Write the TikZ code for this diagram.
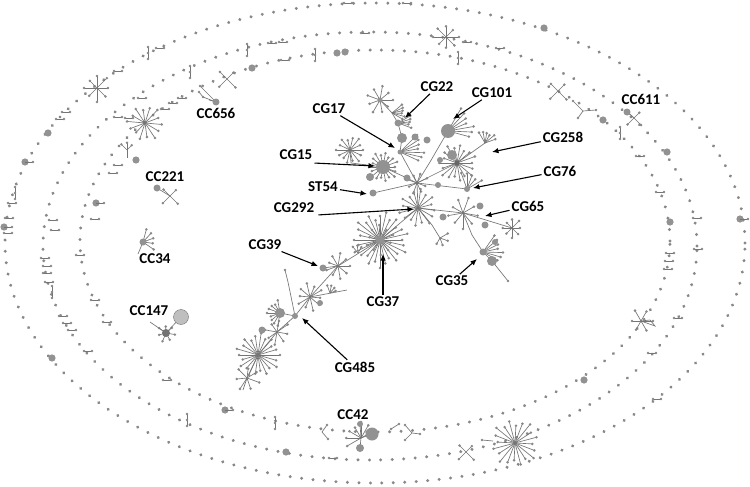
\documentclass[tikz,border=0pt]{standalone}
\usepackage{fontspec}
\setmainfont{Carlito}
\usetikzlibrary{arrows.meta,decorations.markings}
\definecolor{dotc}{HTML}{888888}
\definecolor{edgec}{HTML}{747474}
\definecolor{bigc}{HTML}{929292}
\newcommand{\starat}[5]{\foreach \k in {1,...,#3}{\pgfmathsetmacro{\ang}{#5+360*\k/#3}\pgfmathsetmacro{\slen}{#4*(0.72+0.28*mod(\k*7,5)/4)}\draw[edge] (#1,#2) -- ++(\ang:\slen) coordinate (sp); \fill[dotc] (sp) circle (1.4pt);}}
\newcommand{\fanat}[6]{\foreach \k in {1,...,#3}{\pgfmathsetmacro{\ang}{#5+(#6-#5)*(\k-1)/max(#3-1,1)}\pgfmathsetmacro{\slen}{#4*(0.75+0.25*mod(\k*3,4)/3)}\draw[edge] (#1,#2) -- ++(\ang:\slen) coordinate (sp); \fill[dotc] (sp) circle (1.4pt);}}
\newcommand{\vbr}[2]{\draw[edge] (#1,#2-6) -- (#1,#2+6); \fill[dotc] (#1,#2-6) circle (1.4pt) (#1,#2) circle (1.4pt) (#1,#2+6) circle (1.4pt);}
\begin{document}
\begin{tikzpicture}[x=1pt,y=-1pt,
 edge/.style={draw=edgec,line width=0.65pt},
 lbl/.style={font=\fontsize{15}{15}\selectfont\bfseries, inner sep=1pt, text=black},
 arr/.style={draw=black,line width=1.1pt,shorten <=1pt,-{Latex[length=6.5pt,width=5.5pt]}},
 ring/.style={postaction={decorate},decoration={markings,mark=between positions 0 and 1 step 11.5pt with {\fill[dotc] (0,0) circle (1.65pt);}}}
]
\useasboundingbox (0,0) rectangle (750,487);
\fill[white] (0,0) rectangle (750,487);
% rings
\path[ring] (375,243) ellipse [x radius=370pt, y radius=240pt];
\path[ring] (370,246) ellipse [x radius=327pt, y radius=214pt];
\path[ring] (375,241) ellipse [x radius=295pt, y radius=191pt];
% ring bars
\foreach \p in {(160,48),(118,71),(60,119),(66,112),(12,203),(9,218),(8,233),(348,3),(407,3),
 (272,43),(283,42),(142,98),(53,220),(55,230),(365,33),(467,42),(500,48),(45,258),(47,266),(47,273),(49,282),
 (63,316),(67,323),(72,330),(88,351),(333,458),(697,218),(698,249),(678,318),(652,353),(640,156),(660,192),
 (285,60),(182,98),(173,103),(165,109),(118,165),(113,173),(95,219),(80,255),(95,300),(107,322),(167,380),
 (670,253),(669,261),(668,269),(657,399),(118,117),(129,118)}{\path \p coordinate (q); \draw[edge] ([xshift=-4pt]q) -- ([xshift=4pt]q); \fill[dotc] ([xshift=-4pt]q) circle (1.4pt) ([xshift=4pt]q) circle (1.4pt);}
\vbr{148}{53}\vbr{15}{193}\vbr{247}{50}\vbr{190}{72}\vbr{52}{292}\vbr{187}{420}\vbr{620}{133}
\vbr{315}{55}\vbr{275}{423}\vbr{458}{58}
% ring circles
\foreach \x/\y/\r in {48/133/3.6,25/162/3.6,4/227/3.6,52/358/3.6,544/28/3.6,740/219/3.6,286/452/3.6,
 96/203/3.6,136/160/3.6,252/68/3.6,337/53/3.6,345/52/3.6,603/120/3.6,667/152/3.6,670/222/3.6,225/410/3.6,584/380/3.6}
 {\fill[bigc] (\x,\y) circle (\r pt);}
\draw[edge] (25,162) -- (33,162); \fill[dotc] (33,162) circle (1.4pt);
\draw[edge] (4,227) -- (12,227); \fill[dotc] (12,227) circle (1.4pt);
\draw[edge] (96,203) -- (104,203); \fill[dotc] (104,203) circle (1.4pt);
\draw[edge] (740,219) -- (748,219); \fill[dotc] (748,219) circle (1.4pt);
\draw[edge] (225,410) -- (233,410); \fill[dotc] (233,410) circle (1.4pt);
% ring stars and small shapes
\starat{97}{88}{8}{14}{0}
\starat{145}{123}{14}{18}{5}
\fanat{127}{150}{3}{8}{-135}{-45}\draw[edge] (127,150)--(127,158);
\fanat{227}{79}{4}{12}{45}{315}
\fanat{446}{37}{8}{13}{0}{315}
\fanat{558}{91}{4}{12}{45}{315}
\draw[edge] (583,111) -- (573,101) (583,111) -- (596,110) (583,111) -- (578,118);
\fill[dotc] (573,101) circle (1.4pt) (596,110) circle (1.4pt) (578,118) circle (1.4pt);
\fanat{641}{321}{6}{12}{0}{300}
\draw[edge] (641,321) -- (655,326) -- (650,320) -- cycle;
\fanat{466}{452}{4}{11}{45}{315}
\starat{515}{443}{20}{24}{3}
\draw[edge] (493,441) -- (482,440); \fill[dotc] (482,440) circle (1.4pt);
\draw[edge] (327,425) -- (322,432) -- (328,439); \fill[dotc] (327,425) circle (1.4pt) (328,439) circle (1.4pt);
\draw[edge] (391,429) -- (399,424); \fill[dotc] (391,429) circle (1.4pt) (399,424) circle (1.4pt);
\draw[edge] (412,433) -- (405,425) (412,433) -- (420,434) (412,433) -- (405,440);
\fill[dotc] (405,425) circle (1.4pt) (420,434) circle (1.4pt) (405,440) circle (1.4pt);
% CC clusters
\coordinate (cc656) at (216,102);
\draw[edge] (cc656) -- (200,86) (cc656) -- (203,97) (cc656) -- (209,100) (203,97) -- (199,92);
\fill[dotc] (200,86) circle (1.4pt) (203,97) circle (1.4pt) (199,92) circle (1.4pt);
\fill[bigc] (cc656) circle (3.5pt);
\coordinate (cc611) at (627,112);
\fanat{634}{118}{4}{10}{45}{315}
\draw[edge] (cc611) -- (634,118); \fill[bigc] (cc611) circle (3.5pt);
\coordinate (cc221) at (157,188);
\fanat{170}{196}{4}{11}{45}{315}
\draw[edge] (cc221) -- (170,196); \fill[bigc] (cc221) circle (3.5pt);
\coordinate (cc34) at (143,242);
\fanat{143}{242}{5}{13}{-75}{35}\draw[edge] (143,242)--(138,254);
\fill[bigc] (cc34) circle (3.5pt);
\coordinate (cc147) at (166,333);
\starat{166}{333}{7}{9}{10}
\draw[edge] (cc147) -- (150,322) (cc147) -- (181,317);
\fill[black!25, draw=edgec] (181,317) circle (7.5pt);
\fill[black!55] (cc147) circle (4pt);
\coordinate (cc42) at (361,438);
\fanat{361}{438}{7}{16}{150}{330}
\draw[edge] (cc42)--(360,424) (cc42)--(372,434) (cc42)--(360,448);
\fill[bigc] (360,424) circle (3pt) (372,434) circle (6.5pt) (360,448) circle (4pt);
% ===== central tree =====
\draw[edge] (380,100) -- (392,113) -- (398,123) -- (402,138) -- (400,152) -- (417,183);
\draw[edge] (350,150) -- (351,163) -- (383,167) -- (407,178) -- (417,183);
\draw[edge] (373,193) -- (417,183);
\draw[edge] (417,183) -- (430,162) -- (448,131);
\draw[edge] (417,183) -- (457,163) -- (485,143);
\draw[edge] (417,183) -- (467,189);
\draw[edge] (417,183) -- (418,208) -- (380,240);
\draw[edge] (418,208) -- (463,213) -- (512,228);
\draw[edge] (463,213) -- (472,235) -- (483,252) -- (492,261) -- (508,281);
\draw[edge] (418,208) -- (432,225) -- (440,238);
\draw[edge] (380,240) -- (338,266) -- (323,268);
\draw[edge] (338,266) -- (310,297) -- (295,316) -- (277,332) -- (258,355) -- (247,378) -- (243,390);
\draw[edge] (295,316) -- (280,313) (295,316) -- (288,282) -- (285,270);
\draw[edge] (310,297) -- (347,290);
\fill[dotc] (508,281) circle (1.4pt) (285,270) circle (1.4pt);
% stars
\starat{380}{100}{9}{14}{200}
\fanat{392}{113}{6}{13}{-40}{30}
\fanat{398}{123}{5}{14}{-30}{20}
\fanat{400}{152}{7}{24}{-45}{25}
\starat{350}{150}{14}{14}{0}
\starat{383}{167}{18}{15}{0}
\starat{417}{183}{8}{11}{20}
\fanat{448}{131}{7}{26}{-60}{15}
\starat{457}{163}{18}{19}{0}
\fanat{485}{143}{6}{12}{-120}{-20}
\fanat{467}{189}{5}{17}{-110}{-30}
\starat{418}{208}{16}{19}{8}
\starat{380}{240}{28}{28}{0}
\starat{380}{240}{10}{15}{15}
\starat{463}{213}{9}{16}{10}
\starat{512}{228}{8}{10}{0}
\fanat{483}{252}{7}{20}{-55}{30}
\fanat{440}{238}{4}{9}{-30}{120}
\fanat{358}{253}{3}{8}{-130}{-60}
\starat{338}{266}{9}{13}{0}
\starat{310}{297}{10}{14}{5}
\fanat{330}{293}{4}{8}{-110}{-20}
\fanat{280}{313}{9}{13}{100}{260}
\starat{277}{332}{8}{13}{10}
\starat{258}{355}{22}{22}{0}
\starat{247}{378}{7}{13}{20}
% circles in tree
\foreach \x/\y/\r in {380/100/2.5,398/123/3.5,402/138/5,415/137/3.5,427/140/3.5,400/152/2.5,383/167/7,370/177/4,
 407/178/3.5,373/193/3.5,438/185/3,448/131/7,452/155/5,440/160/3,467/189/3,443/217/3.5,380/240/4.5,
 480/206/3.5,485/225/3.5,483/252/3.5,495/242/3,492/261/5,323/268/3.5,320/303/3,295/316/3,280/313/5,262/330/3.5}
 {\fill[bigc] (\x,\y) circle (\r pt);}
\fill[black!60] (457,163) circle (2.5pt);
% arrow targets
\coordinate (tcg22) at (405,118);
\coordinate (tcg101) at (453,119);
\coordinate (tcg17) at (395,148);
\coordinate (tcg15) at (375,166);
\coordinate (tst54) at (367,194);
\coordinate (tcg292) at (414,209);
\coordinate (tcg258) at (492,152);
\coordinate (tcg76) at (473,188);
\coordinate (tcg65) at (485,216);
\coordinate (tcg35) at (477,259);
\coordinate (tcg37) at (383,254);
\coordinate (tcg39) at (318,266);
\coordinate (tcg485) at (302,318);
% labels
\node[lbl] (lcg22) at (437,87) {CG22};
\node[lbl] (lcg101) at (492,93) {CG101};
\node[lbl] (lcg17) at (329,109) {CG17};
\node[lbl] (lcg258) at (563,137) {CG258};
\node[lbl] (lcg15) at (296,155) {CG15};
\node[lbl] (lcg76) at (560,171) {CG76};
\node[lbl] (lst54) at (323,187) {ST54};
\node[lbl] (lcg292) at (294,208) {CG292};
\node[lbl] (lcg65) at (528,206) {CG65};
\node[lbl] (lcg39) at (265,245) {CG39};
\node[lbl] (lcg37) at (383,302) {CG37};
\node[lbl] (lcg35) at (452,281) {CG35};
\node[lbl] (lcg485) at (355,367) {CG485};
\node[lbl] (lcc656) at (216,113) {CC656};
\node[lbl] (lcc611) at (641,99) {CC611};
\node[lbl] (lcc221) at (165,177) {CC221};
\node[lbl] (lcc34) at (155,259) {CC34};
\node[lbl] (lcc147) at (149,311) {CC147};
\node[lbl] (lcc42) at (353,415) {CC42};
% arrows
\draw[arr] (lcg22) -- (tcg22);
\draw[arr] (lcg101) -- (tcg101);
\draw[arr] (lcg17) -- (tcg17);
\draw[arr] (lcg15.east) ++(0,8) -- (tcg15);
\draw[arr] (lst54) -- (tst54);
\draw[arr] (lcg292.east) ++(2,7) -- (tcg292);
\draw[arr] (lcg258) -- (tcg258);
\draw[arr] (lcg76) -- (tcg76);
\draw[arr] (lcg65) -- (tcg65);
\draw[arr] (lcg35) -- (tcg35);
\draw[arr] (lcg37) -- (tcg37);
\draw[arr] (lcg39) -- (tcg39);
\draw[arr] (lcg485) -- (tcg485);
\end{tikzpicture}
\end{document}
